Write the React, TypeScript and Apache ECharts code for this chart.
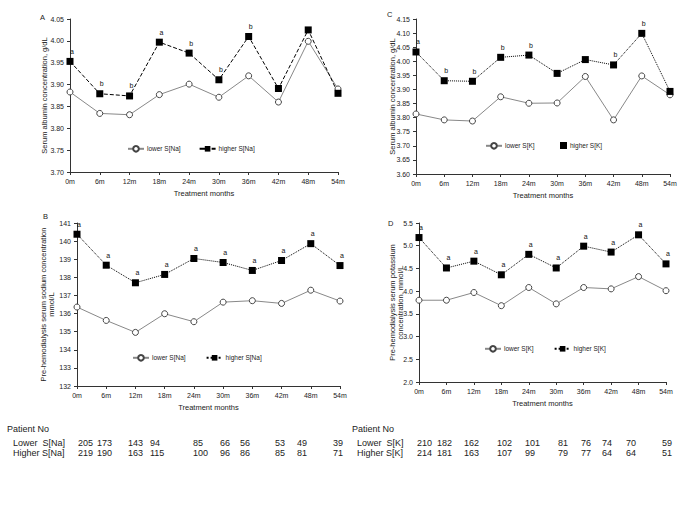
import React, { useEffect, useRef } from "react";
import * as echarts from "echarts";

const months = ["0m", "6m", "12m", "18m", "24m", "30m", "36m", "42m", "48m", "54m"];

// Panel A: serum albumin by S[Na]
const albNaLower = [3.883, 3.834, 3.831, 3.877, 3.901, 3.871, 3.92, 3.86, 3.999, 3.89];
const albNaHigher = [3.953, 3.879, 3.874, 3.997, 3.972, 3.911, 4.01, 3.891, 4.025, 3.88];
const albNaSig = ["a", "b", "b", "a", "b", "b", "b", "", "", ""];

// Panel C: serum albumin by S[K]
const albKLower = [3.813, 3.792, 3.788, 3.874, 3.851, 3.852, 3.946, 3.792, 3.948, 3.881];
const albKHigher = [4.033, 3.931, 3.929, 4.014, 4.022, 3.957, 4.006, 3.987, 4.099, 3.893];
const albKSig = ["a", "b", "b", "b", "b", "", "", "b", "b", ""];

// Panel B: serum sodium
const naLower = [136.36, 135.62, 134.96, 135.99, 135.55, 136.63, 136.71, 136.56, 137.29, 136.69];
const naHigher = [140.38, 138.67, 137.7, 138.16, 139.04, 138.82, 138.38, 138.93, 139.86, 138.65];
const naSig = ["a", "a", "a", "a", "a", "a", "a", "a", "a", "a"];

// Panel D: serum potassium
const kLower = [3.8, 3.8, 3.97, 3.68, 4.08, 3.72, 4.08, 4.05, 4.32, 4.01];
const kHigher = [5.18, 4.51, 4.66, 4.36, 4.81, 4.51, 4.99, 4.86, 5.24, 4.6];
const kSig = ["a", "a", "a", "a", "a", "a", "a", "a", "a", "a"];

// Patient numbers
const patientsLowerNa = [205, 173, 143, 94, 85, 66, 56, 53, 49, 39];
const patientsHigherNa = [219, 190, 163, 115, 100, 96, 86, 85, 81, 71];
const patientsLowerK = [210, 182, 162, 102, 101, 81, 76, 74, 70, 59];
const patientsHigherK = [214, 181, 163, 107, 99, 79, 77, 64, 64, 51];

// layout (positions only, left edges of table columns)
const naColX = [78, 97, 128, 150, 193, 220, 240, 275, 297, 333];
const kColX = [417, 437, 464, 497, 525, 558, 581, 602, 626, 662];

const FONT = "Liberation Sans, Arial, sans-serif";

const legendNames: Record<string, string> = {
  aLow: "lower S[Na]",
  aHigh: "higher S[Na]",
  bLow: "lower S[Na]",
  bHigh: "higher S[Na]",
  cLow: "lower S[K]",
  cHigh: "higher S[K]",
  dLow: "lower S[K]",
  dHigh: "higher S[K]",
};

function lowerSeries(id: string, data: number[], idx: number) {
  return {
    name: id,
    type: "line",
    xAxisIndex: idx,
    yAxisIndex: idx,
    data,
    symbol: "circle",
    symbolSize: 6,
    itemStyle: { color: "#fff", borderColor: "#444", borderWidth: 1 },
    lineStyle: { color: "#888", width: 1 },
  };
}

function higherSeries(id: string, data: number[], idx: number, sig: string[], lineType: string) {
  return {
    name: id,
    type: "line",
    xAxisIndex: idx,
    yAxisIndex: idx,
    data,
    symbol: "rect",
    symbolSize: 7,
    itemStyle: { color: "#000" },
    lineStyle: { color: "#000", width: 1, type: lineType },
    label: {
      show: true,
      position: "top",
      distance: 3,
      offset: [2, 0],
      fontSize: 7,
      fontFamily: FONT,
      color: "#111",
      textBorderWidth: 0,
      formatter: (p: any) => sig[p.dataIndex],
    },
  };
}

function xAx(idx: number) {
  return {
    type: "category",
    gridIndex: idx,
    data: months,
    boundaryGap: false,
    name: "Treatment months",
    nameLocation: "middle",
    nameGap: 17,
    nameTextStyle: { fontSize: 7.5, fontFamily: FONT, color: "#222" },
    axisLine: { lineStyle: { color: "#333", width: 1 } },
    axisTick: { show: true, length: 3, lineStyle: { color: "#333" } },
    axisLabel: { fontSize: 7, fontFamily: FONT, color: "#222", margin: 6, interval: 0 },
    splitLine: { show: false },
  };
}

function yAx(
  idx: number,
  min: number,
  max: number,
  interval: number,
  name: string,
  gap: number,
  digits: number,
  lineHeight: number
) {
  return {
    type: "value",
    gridIndex: idx,
    min,
    max,
    interval,
    name,
    nameLocation: "middle",
    nameRotate: 90,
    nameGap: gap,
    nameMoveOverlap: false,
    nameTextStyle: { fontSize: 7.5, fontFamily: FONT, color: "#222", lineHeight },
    axisLine: { show: true, lineStyle: { color: "#333", width: 1 } },
    axisTick: { show: true, length: 3, lineStyle: { color: "#333" } },
    axisLabel: {
      fontSize: 7,
      fontFamily: FONT,
      color: "#222",
      margin: 6,
      formatter: (v: number) => v.toFixed(digits),
    },
    splitLine: { show: false },
  };
}

function legend(left: number, top: number, names: any[], gap: number, itemWidth = 16) {
  return {
    left,
    top,
    padding: 0,
    orient: "horizontal",
    itemGap: gap,
    itemWidth,
    itemHeight: 7,
    data: names,
    textStyle: { fontSize: 6.5, fontFamily: FONT, color: "#222", padding: [0, 0, 0, -2] },
    formatter: (n: string) => legendNames[n],
    selectedMode: false,
  };
}

function txt(x: number, y: number, text: string, size: number, align = "left") {
  return {
    type: "text",
    x,
    y,
    style: { text, fontSize: size, fontFamily: FONT, fill: "#222", textAlign: align, textVerticalAlign: "middle" },
  };
}

export default function App() {
  const ref = useRef<HTMLDivElement>(null);
  useEffect(() => {
    if (!ref.current) return;
    const chart = echarts.init(ref.current, null, { renderer: "svg" });

    const ROW1 = 443;
    const ROW2 = 453;
    const TS = 9;
    const graphics: any[] = [
      txt(40, 17, "A", 7.5),
      txt(387, 14, "C", 7.5),
      txt(43, 216, "B", 7.5),
      txt(388, 223, "D", 7.5),
      txt(7, 429, "Patient No", TS),
      txt(13, ROW1, "Lower  S[Na]", TS),
      txt(13, ROW2, "Higher S[Na]", TS),
      txt(352, 429, "Patient No", TS),
      txt(357, ROW1, "Lower  S[K]", TS),
      txt(357, ROW2, "Higher S[K]", TS),
    ];
    naColX.forEach((x, i) => {
      graphics.push(txt(x, ROW1, String(patientsLowerNa[i]), TS));
      graphics.push(txt(x, ROW2, String(patientsHigherNa[i]), TS));
    });
    kColX.forEach((x, i) => {
      graphics.push(txt(x, ROW1, String(patientsLowerK[i]), TS));
      graphics.push(txt(x, ROW2, String(patientsHigherK[i]), TS));
    });

    chart.setOption({
      animation: false,
      backgroundColor: "#fff",
      textStyle: { fontFamily: FONT },
      grid: [
        { left: 70, top: 19, width: 268, height: 153 },
        { left: 77, top: 223, width: 263, height: 163 },
        { left: 416, top: 19, width: 254, height: 155 },
        { left: 419, top: 223, width: 247, height: 159 },
      ],
      xAxis: [xAx(0), xAx(1), xAx(2), xAx(3)],
      yAxis: [
        yAx(0, 3.7, 4.05, 0.05, "Serum albumin concentration, g/dL", 21, 2, 9),
        yAx(1, 132, 141, 1, "Pre-hemodialysis serum sodium concentration\nmmol/L", 21, 0, 8.5),
        yAx(2, 3.6, 4.15, 0.05, "Serum albumin concentration, g/dL", 19, 2, 9),
        yAx(3, 2.0, 5.5, 0.5, "Pre-hemodialysis serum potassium\nconcentration, mmol/L", 14, 1, 8.5),
      ],
      legend: [
        legend(127, 145, ["aLow", "aHigh"], 18),
        legend(132, 354, ["bLow", "bHigh"], 20),
        legend(485, 142, ["cLow"], 10),
        legend(560, 142, [{ name: "cHigh", icon: "rect" }], 10, 7),
        legend(484, 345, ["dLow", "dHigh"], 20),
      ],
      series: [
        lowerSeries("aLow", albNaLower, 0),
        higherSeries("aHigh", albNaHigher, 0, albNaSig, "dashed"),
        lowerSeries("bLow", naLower, 1),
        higherSeries("bHigh", naHigher, 1, naSig, "dotted"),
        lowerSeries("cLow", albKLower, 2),
        higherSeries("cHigh", albKHigher, 2, albKSig, "dotted"),
        lowerSeries("dLow", kLower, 3),
        higherSeries("dHigh", kHigher, 3, kSig, "dotted"),
      ],
      graphic: graphics,
    });
    return () => chart.dispose();
  }, []);
  return <div ref={ref} style={{ width: 685, height: 513, position: "absolute", left: 0, top: 0 }} />;
}
